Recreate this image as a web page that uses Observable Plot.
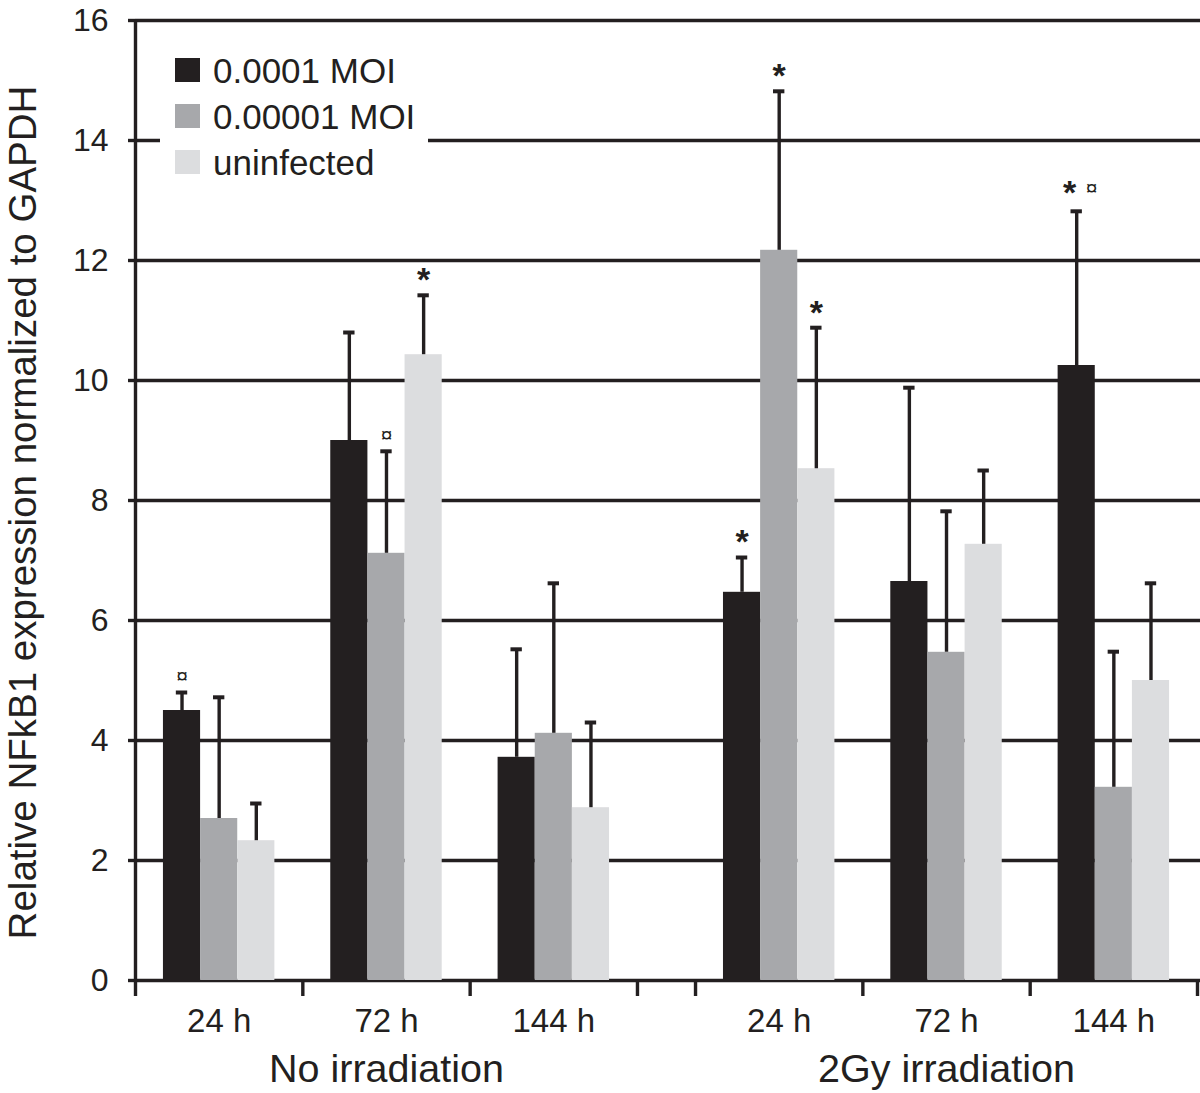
<!DOCTYPE html>
<html>
<head>
<meta charset="utf-8">
<script src="https://cdn.jsdelivr.net/npm/d3@7"></script>
<script src="https://cdn.jsdelivr.net/npm/@observablehq/plot@0.6"></script>
<style>
  html, body { margin: 0; padding: 0; background: #fff; }
  #chart svg { display: block; }
</style>
</head>
<body>
<div id="chart"></div>
<script>
// ---- data ----
const conditions = ["No irradiation", "2Gy irradiation"];
const timepoints = ["24 h", "72 h", "144 h"];
const seriesNames = ["0.0001 MOI", "0.00001 MOI", "uninfected"];
const seriesColors = ["#231f20", "#a7a8ab", "#dcdddf"];

// means in order: NoIrr 24,72,144, 2Gy 24,72,144
const moi4Mean = [4.5, 9.0, 3.72, 6.47, 6.65, 10.25];
const moi5Mean = [2.7, 7.12, 4.12, 12.17, 5.47, 3.22];
const uninfMean = [2.33, 10.43, 2.88, 8.53, 7.27, 5.0];
// upper error (SD)
const moi4Sd = [0.3, 1.8, 1.8, 0.58, 3.23, 2.57];
const moi5Sd = [2.02, 1.7, 2.5, 2.65, 2.35, 2.26];
const uninfSd = [0.62, 0.99, 1.42, 2.35, 1.23, 1.62];
// significance marks
const moi4Sig = ["¤", "", "", "*", "", "*¤"];
const moi5Sig = ["", "¤", "", "*", "", ""];
const uninfSig = ["", "*", "", "*", "", ""];

const yTicks = [0, 2, 4, 6, 8, 10, 12, 14, 16];

// ---- layout helpers ----
const ink = "#231f20";
const gap = 0.347;          // narrow spacer between the two conditions (in slot units)
const barW = 0.222;         // bar width in slot units
const capHalf = 0.034;      // half width of error caps in slot units
const slotCenter = i => i + 0.5 + (i >= 3 ? gap : 0);

const means = [moi4Mean, moi5Mean, uninfMean];
const sds = [moi4Sd, moi5Sd, uninfSd];
const sigs = [moi4Sig, moi5Sig, uninfSig];

const bars = [];
conditions.forEach((cond, c) => {
  timepoints.forEach((tp, t) => {
    const i = c * 3 + t;
    seriesNames.forEach((s, k) => {
      const xc = slotCenter(i) + (k - 1) * barW;
      bars.push({
        condition: cond, time: tp, series: s, k,
        xc, x1: xc - barW / 2, x2: xc + barW / 2,
        value: means[k][i], err: means[k][i] + sds[k][i],
        sig: sigs[k][i]
      });
    });
  });
});

const slots = [];
conditions.forEach((cond, c) => timepoints.forEach((tp, t) => slots.push({condition: cond, time: tp, x: slotCenter(c * 3 + t)})));
const groups = conditions.map((cond, c) => ({condition: cond, x: slotCenter(c * 3 + 1)}));
const boundaries = [0, 1, 2, 3, 3 + gap, 4 + gap, 5 + gap, 6 + gap];

const font = "'Liberation Sans', Arial, Helvetica, sans-serif";

const starOnly = bars.filter(d => d.sig === "*");
const curOnly = bars.filter(d => d.sig === "¤");
const both = bars.filter(d => d.sig.includes("*") && d.sig.includes("¤"));

const chart = Plot.plot({
  width: 1200,
  height: 1093,
  marginLeft: 135,
  marginRight: 0,
  marginTop: 20,
  marginBottom: 113,
  style: {fontFamily: font, color: ink, background: "#fff"},
  x: {type: "linear", domain: [0, 6 + gap], range: [135, 1197], axis: null},
  y: {domain: [0, 16], axis: null},
  color: {domain: seriesNames, range: seriesColors},
  marks: [
    Plot.ruleY(yTicks, {stroke: ink, strokeWidth: 3.4}),
    Plot.axisY({ticks: yTicks, tickSize: 7, tickPadding: 20, fontSize: 32, stroke: ink, strokeWidth: 3.4, fill: ink, label: null}),
    Plot.axisX({ticks: boundaries, tickFormat: () => "", tickSize: 16, stroke: ink, strokeWidth: 3.4, label: null}),
    Plot.ruleX([0], {stroke: ink, strokeWidth: 3.4}),
    Plot.rectY(bars, {x1: "x1", x2: "x2", y: "value", fill: "series"}),
    Plot.ruleX(bars, {x: "xc", y1: "value", y2: "err", stroke: ink, strokeWidth: 3.4}),
    Plot.ruleY(bars, {y: "err", x1: d => d.xc - capHalf, x2: d => d.xc + capHalf, stroke: ink, strokeWidth: 4}),
    // significance: asterisk alone
    Plot.text(starOnly, {x: "xc", y: "err", text: () => "*", dy: -15, fontSize: 34, fontWeight: "bold", fill: ink}),
    // currency sign alone
    Plot.text(curOnly, {x: "xc", y: "err", text: () => "¤", dy: -16, fontSize: 21, fill: ink}),
    // both marks side by side
    Plot.text(both, {x: "xc", y: "err", text: () => "*", dx: -7, dy: -18, fontSize: 34, fontWeight: "bold", fill: ink}),
    Plot.text(both, {x: "xc", y: "err", text: () => "¤", dx: 15, dy: -23, fontSize: 21, fill: ink}),
    Plot.text(slots, {x: "x", text: "time", frameAnchor: "bottom", dy: 51, fontSize: 33, fill: ink}),
    Plot.text(groups, {x: "x", text: "condition", frameAnchor: "bottom", dy: 101, fontSize: 39.5, fill: ink}),
    Plot.text(["Relative NFkB1 expression normalized to GAPDH"], {
      x: 0, y: 7.8, text: d => d, rotate: -90, dx: -112, fontSize: 38.5, fill: ink
    })
  ]
});

document.getElementById("chart").appendChild(chart);

// ---- legend inside the plot area (top-left), on a white box ----
const svg = d3.select(chart);
const lg = svg.append("g").attr("font-family", font).attr("text-anchor", "start");
lg.append("rect").attr("x", 160).attr("y", 44).attr("width", 268).attr("height", 142).attr("fill", "#fff");
seriesNames.forEach((s, k) => {
  const y0 = 58 + k * 46;
  lg.append("rect").attr("x", 175).attr("y", y0).attr("width", 25).attr("height", 24).attr("fill", seriesColors[k]);
  lg.append("text").attr("x", 213).attr("y", y0 + 25).attr("text-anchor", "start").attr("font-size", 35).attr("fill", ink).text(s);
});
</script>
</body>
</html>
